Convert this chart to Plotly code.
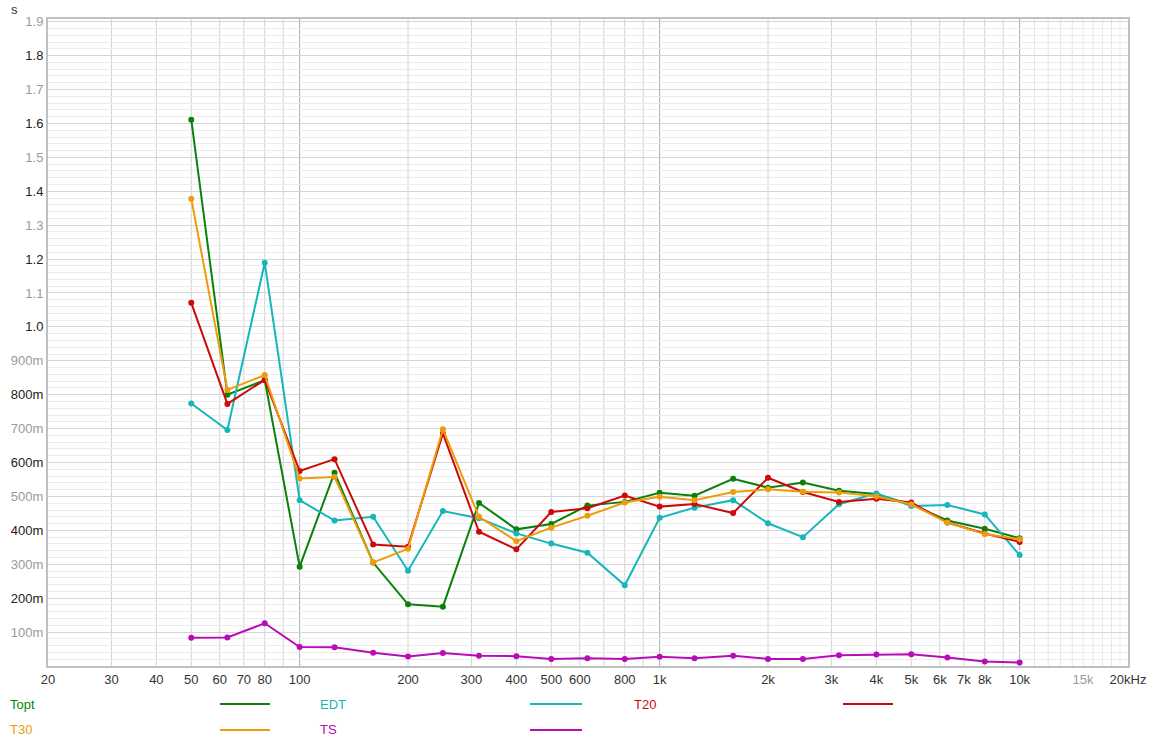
import plotly.graph_objects as go
import numpy as np

freqs = [50, 63, 80, 100, 125, 160, 200, 250, 315, 400, 500, 630, 800,
         1000, 1250, 1600, 2000, 2500, 3150, 4000, 5000, 6300, 8000, 10000]

topt = [1.611, 0.800, 0.843, 0.293, 0.570, 0.305, 0.182, 0.175, 0.481, 0.403, 0.419, 0.473, 0.484,
        0.511, 0.502, 0.552, 0.526, 0.541, 0.517, 0.507, 0.476, 0.429, 0.405, 0.377]
edt = [0.774, 0.696, 1.189, 0.489, 0.429, 0.440, 0.281, 0.457, 0.436, 0.391, 0.361, 0.334, 0.238,
       0.437, 0.467, 0.489, 0.421, 0.380, 0.477, 0.509, 0.472, 0.475, 0.447, 0.327]
t20 = [1.071, 0.773, 0.844, 0.575, 0.610, 0.358, 0.352, 0.686, 0.396, 0.344, 0.454, 0.465, 0.503,
       0.470, 0.478, 0.451, 0.555, 0.513, 0.484, 0.493, 0.482, 0.423, 0.391, 0.366]
t30 = [1.378, 0.814, 0.858, 0.553, 0.557, 0.305, 0.346, 0.698, 0.440, 0.368, 0.408, 0.443, 0.482,
       0.499, 0.489, 0.513, 0.521, 0.514, 0.512, 0.500, 0.477, 0.423, 0.389, 0.374]
ts = [0.083, 0.084, 0.126, 0.056, 0.055, 0.039, 0.028, 0.038, 0.030, 0.029, 0.021, 0.023, 0.021,
      0.027, 0.023, 0.030, 0.021, 0.021, 0.032, 0.034, 0.035, 0.025, 0.013, 0.010]

series_names = ["Topt", "EDT", "T20", "T30", "TS"]
series_colors = ["#0a820a", "#16b6bb", "#cc0a0a", "#ee9c0c", "#b80cb8"]
series_data = [topt, edt, t20, t30, ts]

x_tickvals = [20, 30, 40, 50, 60, 70, 80, 100, 200, 300, 400, 500, 600, 800,
              1000, 2000, 3000, 4000, 5000, 6000, 7000, 8000, 10000, 15000, 20000]
x_ticktext = ["20", "30", "40", "50", "60", "70", "80", "100", "200", "300", "400", "500", "600", "800",
              "1k", "2k", "3k", "4k", "5k", "6k", "7k", "8k", "10k",
              "<span style='color:#9a9a9a'>15k</span>", "20kHz"]
x_grid_light = [30, 40, 50, 60, 70, 80, 90, 200, 300, 400, 500, 600, 700, 800, 900,
                2000, 3000, 4000, 5000, 6000, 7000, 8000, 9000]
x_grid_decade = [100, 1000, 10000]
x_grid_faint = [11000, 12000, 13000, 14000, 15000, 16000, 17000, 18000, 19000]

y_tickvals = [0.1, 0.2, 0.3, 0.4, 0.5, 0.6, 0.7, 0.8, 0.9, 1.0,
              1.1, 1.2, 1.3, 1.4, 1.5, 1.6, 1.7, 1.8, 1.9]
y_ticklabels = ["100m", "200m", "300m", "400m", "500m", "600m", "700m", "800m", "900m", "1.0",
                "1.1", "1.2", "1.3", "1.4", "1.5", "1.6", "1.7", "1.8", "1.9"]

fig = go.Figure()
for name, color, data in zip(series_names, series_colors, series_data):
    fig.add_trace(go.Scatter(x=freqs, y=data, mode="lines+markers", name=name,
                             line=dict(color=color, width=2),
                             marker=dict(color=color, size=6),
                             showlegend=False))

y_ticktext = []
for i, t in enumerate(y_ticklabels):
    if i % 2 == 0:
        y_ticktext.append("<span style='color:#9a9a9a'>" + t + "</span>")
    else:
        y_ticktext.append(t)

shapes = []
for xv in x_grid_faint:
    shapes.append(dict(type="line", xref="x", yref="paper", x0=xv, x1=xv, y0=0, y1=1,
                       line=dict(color="#e6e6e6", width=1), layer="between"))
for xv in x_grid_light:
    shapes.append(dict(type="line", xref="x", yref="paper", x0=xv, x1=xv, y0=0, y1=1,
                       line=dict(color="#d2d2d2", width=1), layer="between"))
for xv in x_grid_decade:
    shapes.append(dict(type="line", xref="x", yref="paper", x0=xv, x1=xv, y0=0, y1=1,
                       line=dict(color="#aaaaaa", width=1), layer="between"))

L, R, T, B = 48, 25, 19, 83
W, H = 1153, 749
pw, ph = W - L - R, H - T - B

def px_x(px):
    return (px - L) / pw

def px_y(py):
    return (H - B - py) / ph

legend_text_x = [8, 318, 632, 8, 318]
legend_line_x = [(220, 270), (530, 582), (843, 893), (220, 270), (530, 582)]
legend_y = [704, 704, 704, 730, 730]

annotations = []
for i, name in enumerate(series_names):
    annotations.append(dict(text=name, xref="paper", yref="paper",
                            x=px_x(legend_text_x[i]), y=px_y(legend_y[i]),
                            xanchor="left", yanchor="middle", showarrow=False,
                            font=dict(color=series_colors[i], size=13)))
    x0, x1 = legend_line_x[i]
    shapes.append(dict(type="line", xref="paper", yref="paper",
                       x0=px_x(x0), x1=px_x(x1), y0=px_y(legend_y[i]), y1=px_y(legend_y[i]),
                       line=dict(color=series_colors[i], width=2)))

annotations.append(dict(text="s", xref="paper", yref="paper", x=px_x(14), y=px_y(9),
                        xanchor="center", yanchor="middle", showarrow=False,
                        font=dict(color="#333333", size=13)))

fig.update_layout(
    width=W, height=H,
    margin=dict(l=L, r=R, t=T, b=B),
    paper_bgcolor="white", plot_bgcolor="white",
    font=dict(family="Liberation Sans, Arial, sans-serif", size=13, color="#333333"),
    shapes=shapes, annotations=annotations,
    xaxis=dict(type="log", range=[np.log10(20), np.log10(20000)],
               tickvals=x_tickvals, ticktext=x_ticktext, showgrid=False,
               showline=True, mirror=True, linecolor="#c0c0c0", linewidth=2,
               ticks="", zeroline=False, automargin=False,
               tickfont=dict(size=13, color="#333333")),
    yaxis=dict(range=[0, 1.908], tickvals=y_tickvals, ticktext=y_ticktext,
               showgrid=True, gridcolor="#d6d6d6", gridwidth=1,
               minor=dict(tick0=0, dtick=0.02, showgrid=True, gridcolor="#ececec", gridwidth=1),
               showline=True, mirror=True, linecolor="#c0c0c0", linewidth=2,
               ticks="", zeroline=False, automargin=False,
               tickfont=dict(size=13, color="#222222")),
)

fig.write_html("out.html")
